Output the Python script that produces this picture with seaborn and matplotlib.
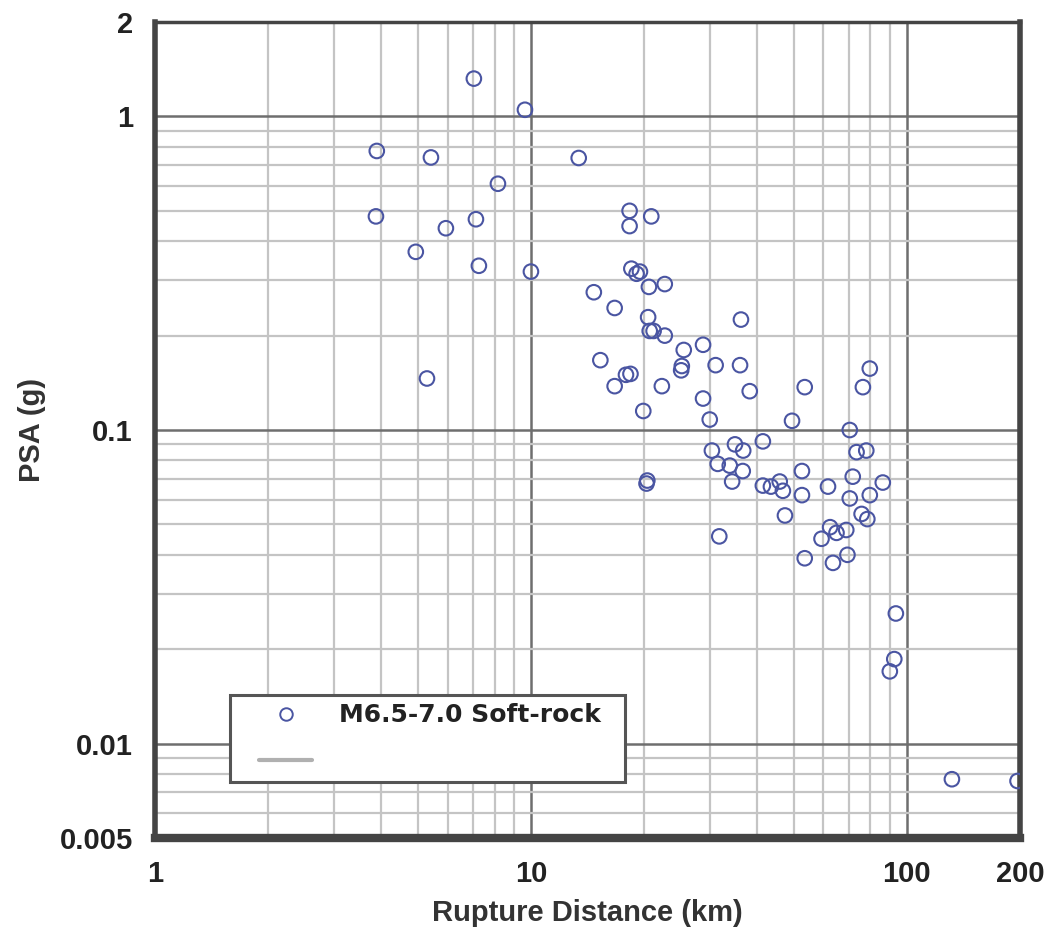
import matplotlib
matplotlib.use("Agg")
import matplotlib.pyplot as plt
from matplotlib.ticker import FixedLocator, LogLocator, NullFormatter, FixedFormatter
from matplotlib.lines import Line2D
from matplotlib.legend_handler import HandlerLine2D
import seaborn as sns
import pandas as pd

# Rupture distance (km) and peak spectral acceleration (g), M6.5-7.0 soft-rock records
rupture_km = [
    7.05, 9.64, 3.89, 5.42, 13.4, 8.17, 3.87, 7.14, 5.94, 4.94, 7.27, 10.0,
    18.3, 18.3, 20.9,
    18.5, 19.1, 19.5, 20.6, 22.7,
    14.7, 16.7, 20.5, 20.7, 21.2, 22.7,
    36.2, 28.7, 25.5, 31.0, 36.0, 25.2, 25.1,
    15.3, 17.9, 18.4, 16.7, 5.29, 22.3,
    79.7, 28.7, 38.2, 53.5, 76.4,
    19.9, 29.9, 49.5, 70.5,
    30.3, 34.9, 36.7, 41.4, 31.4, 33.8, 36.6, 34.3,
    20.3, 20.4, 41.4, 45.9, 46.8, 43.5, 52.6, 52.6, 61.7, 71.8, 70.5, 79.7,
    73.5, 78.0, 86.3,
    47.4, 75.8, 78.5, 62.5, 65.0, 59.3, 69.0, 31.7, 53.5, 63.6, 69.5,
    93.5, 92.6, 90.1, 131.8, 197.0,
]
psa_g = [
    1.32, 1.05, 0.776, 0.74, 0.737, 0.61, 0.48, 0.47, 0.44, 0.37, 0.334, 0.32,
    0.50, 0.447, 0.48,
    0.327, 0.315, 0.32, 0.286, 0.292,
    0.275, 0.245, 0.229, 0.207, 0.207, 0.20,
    0.225, 0.187, 0.18, 0.161, 0.161, 0.16, 0.155,
    0.167, 0.15, 0.151, 0.138, 0.146, 0.138,
    0.157, 0.126, 0.133, 0.137, 0.137,
    0.115, 0.108, 0.107, 0.100,
    0.086, 0.090, 0.086, 0.092, 0.078, 0.077, 0.074, 0.0685,
    0.0675, 0.069, 0.0665, 0.0685, 0.064, 0.066, 0.074, 0.062, 0.066, 0.071, 0.0605, 0.062,
    0.085, 0.086, 0.068,
    0.0534, 0.054, 0.052, 0.049, 0.047, 0.045, 0.048, 0.0458, 0.039, 0.0377, 0.040,
    0.026, 0.0186, 0.017, 0.0077, 0.0076,
]
series_label = "M6.5-7.0 Soft-rock"

x_ticks = [1, 10, 100, 200]
x_tick_labels = ["1", "10", "100", "200"]
y_ticks = [0.005, 0.01, 0.1, 1, 2]
y_tick_labels = ["0.005", "0.01", "0.1", "1", "2"]

df = pd.DataFrame({"Rupture Distance (km)": rupture_km, "PSA (g)": psa_g})

sns.set_style("white")
plt.rcParams["font.family"] = ["Liberation Sans", "DejaVu Sans"]

fig = plt.figure(figsize=(10.51, 9.33), dpi=100)
ax = fig.add_axes([0.1475, 0.1018, 0.823, 0.8746])

marker_color = "#4a55a2"
sns.scatterplot(
    data=df, x="Rupture Distance (km)", y="PSA (g)", ax=ax,
    marker="o", s=110, facecolors="none", edgecolor=marker_color,
    linewidth=1.5, label=series_label, legend=False, zorder=3,
)

ax.set_xscale("log")
ax.set_yscale("log")
ax.set_xlim(1, 200)
ax.set_ylim(0.005, 2)

ax.xaxis.set_major_locator(FixedLocator(x_ticks))
ax.xaxis.set_major_formatter(FixedFormatter(x_tick_labels))
ax.yaxis.set_major_locator(FixedLocator(y_ticks))
ax.yaxis.set_major_formatter(FixedFormatter(y_tick_labels))
ax.xaxis.set_minor_locator(LogLocator(base=10, subs=range(2, 10)))
ax.yaxis.set_minor_locator(LogLocator(base=10, subs=range(2, 10)))
ax.xaxis.set_minor_formatter(NullFormatter())
ax.yaxis.set_minor_formatter(NullFormatter())

ax.grid(True, which="minor", color="#c4c4c4", linewidth=1.6, zorder=0)
ax.grid(True, which="major", color="#6e6e6e", linewidth=1.8, zorder=1)
ax.set_axisbelow(True)

ax.tick_params(which="both", length=0)
ax.tick_params(axis="x", pad=16, labelsize=21)
ax.tick_params(axis="y", pad=16, labelsize=21)
for lab in ax.get_xticklabels() + ax.get_yticklabels():
    lab.set_fontweight("bold")
    lab.set_color("#222222")

for side, lw in {"left": 4.0, "bottom": 6.0, "top": 2.5, "right": 4.0}.items():
    ax.spines[side].set_visible(True)
    ax.spines[side].set_color("#444444")
    ax.spines[side].set_linewidth(lw)

ax.set_xlabel("Rupture Distance (km)", fontsize=21, fontweight="bold",
              color="#333333", labelpad=8)
ax.set_ylabel("PSA (g)", fontsize=21, fontweight="bold",
              color="#333333", labelpad=10)

handles = [
    Line2D([], [], linestyle="none", marker="o", markersize=9,
           markerfacecolor="none", markeredgecolor=marker_color,
           markeredgewidth=1.4),
    Line2D([], [], color="#b0b0b0", linewidth=3),
]
leg = ax.legend(
    handles, [series_label, " "],
    loc="upper left", bbox_to_anchor=(0.0867, 0.0752, 0.4566, 0.1),
    mode="expand",
    borderaxespad=0, borderpad=0.33, labelspacing=0.88,
    handlelength=2.96, handletextpad=1.08,
    handler_map={Line2D: HandlerLine2D(xpad=0.84)},
    frameon=True, fancybox=False, framealpha=1,
    prop={"family": "DejaVu Sans", "weight": "bold", "size": 18},
)
leg.get_frame().set_edgecolor("#555555")
leg.get_frame().set_linewidth(2.2)
for t in leg.get_texts():
    t.set_color("#222222")

fig.savefig("out.png", dpi=100)
